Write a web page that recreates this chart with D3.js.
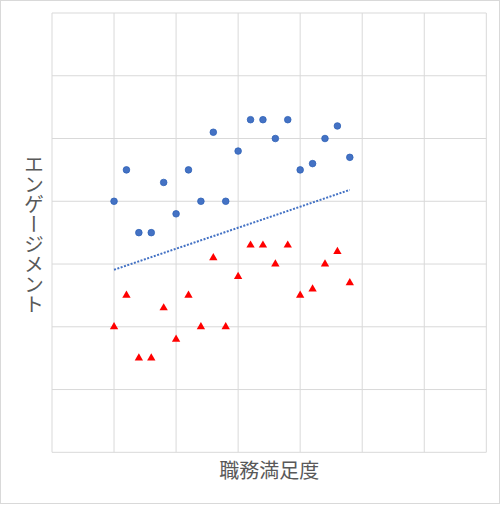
<!DOCTYPE html>
<html><head><meta charset="utf-8">
<script src="https://cdn.jsdelivr.net/npm/d3@7"></script>
<style>
html,body{margin:0;padding:0;background:#fff;}
svg{display:block;font-family:"Noto Sans CJK JP","Noto Sans",sans-serif;}
</style></head>
<body><svg id="c" width="500" height="505"></svg>
<script>
// Data
const satisfaction = [1.0,1.2,1.4,1.6,1.8,2.0,2.2,2.4,2.6,2.8,3.0,3.2,3.4,3.6,3.8,4.0,4.2,4.4,4.6,4.8];
const engagementA = [4.0,4.5,3.5,3.5,4.3,3.8,4.5,4.0,5.1,4.0,4.8,5.3,5.3,5.0,5.3,4.5,4.6,5.0,5.2,4.7];
const engagementB = [2.0,2.5,1.5,1.5,2.3,1.8,2.5,2.0,3.1,2.0,2.8,3.3,3.3,3.0,3.3,2.5,2.6,3.0,3.2,2.7];
const xTicks = [0,1,2,3,4,5,6,7];
const yTicks = [0,1,2,3,4,5,6,7];
const xTitle = "職務満足度";
const yTitle = "エンゲージメント";

const svg = d3.select("#c");
svg.append("rect").attr("x",0.5).attr("y",0.5).attr("width",499).attr("height",503)
  .attr("fill","#fff").attr("stroke","#d9d9d9");

const L=52, R=486.3, T=13, B=452.3;
const x = d3.scaleLinear().domain([0,7]).range([L,R]);
const y = d3.scaleLinear().domain([0,7]).range([B,T]);

const g = svg.append("g");
g.selectAll("line.vx").data(xTicks).join("line").attr("class","vx")
  .attr("x1",d=>x(d)).attr("x2",d=>x(d)).attr("y1",T).attr("y2",B)
  .attr("stroke","#d9d9d9").attr("stroke-width",1);
g.selectAll("line.hy").data(yTicks).join("line").attr("class","hy")
  .attr("y1",d=>y(d)).attr("y2",d=>y(d)).attr("x1",L).attr("x2",R)
  .attr("stroke","#d9d9d9").attr("stroke-width",1);

// Trendline: linear regression over all points
const allX = satisfaction.concat(satisfaction);
const allY = engagementA.concat(engagementB);
const mx = d3.mean(allX), my = d3.mean(allY);
let sxy=0, sxx=0;
allX.forEach((v,i)=>{sxy+=(v-mx)*(allY[i]-my); sxx+=(v-mx)*(v-mx);});
const slope = sxy/sxx, icpt = my - slope*mx;
const [x0,x1] = d3.extent(satisfaction);
svg.append("line")
  .attr("x1",x(x0)).attr("y1",y(icpt+slope*x0))
  .attr("x2",x(x1)).attr("y2",y(icpt+slope*x1))
  .attr("stroke","#4472C4").attr("stroke-width",2).attr("stroke-dasharray","2,1.5");

// Series A circles
svg.append("g").selectAll("circle").data(satisfaction).join("circle")
  .attr("cx",d=>x(d)).attr("cy",(d,i)=>y(engagementA[i])).attr("r",3.3)
  .attr("fill","#4472C4").attr("stroke","#2f62b8").attr("stroke-width",0.8);

// Series B triangles
const tri = d3.symbol().type(d3.symbolTriangle).size(30);
svg.append("g").selectAll("path").data(satisfaction).join("path")
  .attr("d",tri)
  .attr("transform",(d,i)=>`translate(${x(d)},${y(engagementB[i])})`)
  .attr("fill","#FF0000");

// Titles
svg.append("text").attr("x",(L+R)/2).attr("y",478).attr("text-anchor","middle")
  .attr("font-size",20).attr("fill","#595959").text(xTitle);
svg.append("text").attr("x",34).attr("y",(T+B)/2 + 2).attr("text-anchor","middle")
  .style("writing-mode","vertical-rl").style("text-orientation","upright")
  .attr("font-size",20).attr("fill","#595959").text(yTitle);
</script></body></html>
